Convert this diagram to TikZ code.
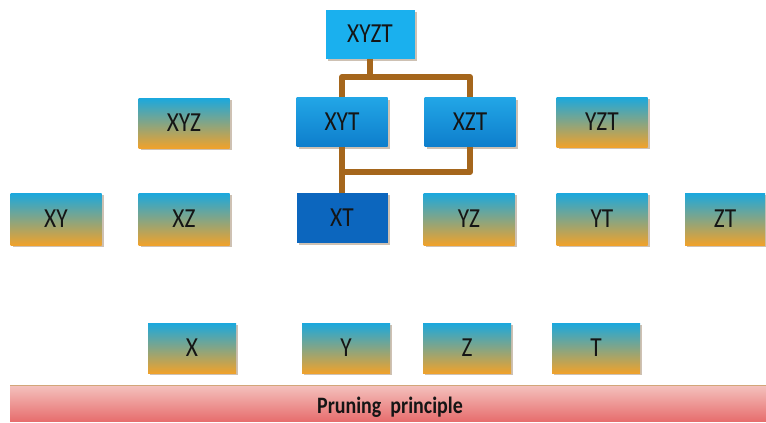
\documentclass[tikz,border=0pt]{standalone}
\usepackage{fontspec}
\setmainfont{Carlito}[FakeStretch=0.85]
\usetikzlibrary{shadows}
\definecolor{cyantop}{HTML}{1AA8DE}
\definecolor{orangebot}{HTML}{EFA22C}
\definecolor{bluetop}{HTML}{22A6E6}
\definecolor{bluebot}{HTML}{0E7ECC}
\definecolor{lightblue}{HTML}{1AB0EE}
\definecolor{darkblue}{HTML}{0C66BE}
\definecolor{branch}{HTML}{A5661C}
\definecolor{pinktop}{HTML}{F4C2BE}
\definecolor{pinkbot}{HTML}{E76E6E}
\definecolor{txt}{HTML}{151515}
\tikzset{
  box/.style={minimum width=91pt, minimum height=50pt, inner sep=0pt,
    font=\fontsize{27.5}{27.5}\selectfont, text=txt,
    drop shadow={shadow xshift=2pt, shadow yshift=-2pt, fill=black!40!brown, opacity=0.35}},
  mixbox/.style={box, top color=cyantop, bottom color=orangebot, middle color=cyantop!50!orangebot},
  bluebox/.style={box, top color=bluetop, bottom color=bluebot},
  topbox/.style={box, fill=lightblue},
  pickbox/.style={box, fill=darkblue},
  conn/.style={draw=branch, line width=6pt, line join=round},
}
\begin{document}
\begin{tikzpicture}[x=1pt, y=-1pt]
  \useasboundingbox (0,0) rectangle (766,423);

  % base bar
  \shade[top color=pinktop, bottom color=pinkbot] (10,385) rectangle (766,421);
  \draw[draw=brown!70!white, line width=1pt] (10,385) -- (766,385);
  \node[font=\bfseries\fontsize{23.5}{23.5}\selectfont, text=txt] (bar) at (390,407) {Pruning\ \ principle};

  % level 4
  \node[topbox, minimum width=89pt, minimum height=49pt] (XYZT) at (370,34) {XYZT};

  % level 3
  \node[mixbox] (XYZ) at (184,123) {XYZ};
  \node[bluebox, minimum height=49pt] (XYT) at (342,122) {XYT};
  \node[bluebox, minimum height=49pt] (XZT) at (470,122) {XZT};
  \node[mixbox] (YZT) at (602,122) {YZT};

  % level 2
  \node[mixbox, minimum height=52pt] (XY) at (56,219) {XY};
  \node[mixbox, minimum height=52pt] (XZ) at (184,219) {XZ};
  \node[pickbox] (XT) at (342,218) {XT};
  \node[mixbox, minimum height=52pt] (YZ) at (469,219) {YZ};
  \node[mixbox, minimum height=52pt] (YT) at (602,219) {YT};
  \node[mixbox, minimum height=52pt, minimum width=80pt] (ZT) at (725,219) {ZT};

  % level 1
  \node[mixbox, minimum width=88pt] (X) at (192,348) {X};
  \node[mixbox, minimum width=88pt] (Y) at (346,348) {Y};
  \node[mixbox, minimum width=88pt] (Z) at (467,348) {Z};
  \node[mixbox, minimum width=88pt] (T) at (596,348) {T};

  % pruning branches
  \coordinate (j1) at (370,77);
  \coordinate (j2) at (342,172);
  \draw[conn] (XYZT.south) -- (j1);
  \draw[conn] (XYT.north) |- (j1) -| (XZT.north);
  \draw[conn] (XYT.south) -- (XT.north);
  \draw[conn] (XZT.south) |- (j2);
\end{tikzpicture}
\end{document}
